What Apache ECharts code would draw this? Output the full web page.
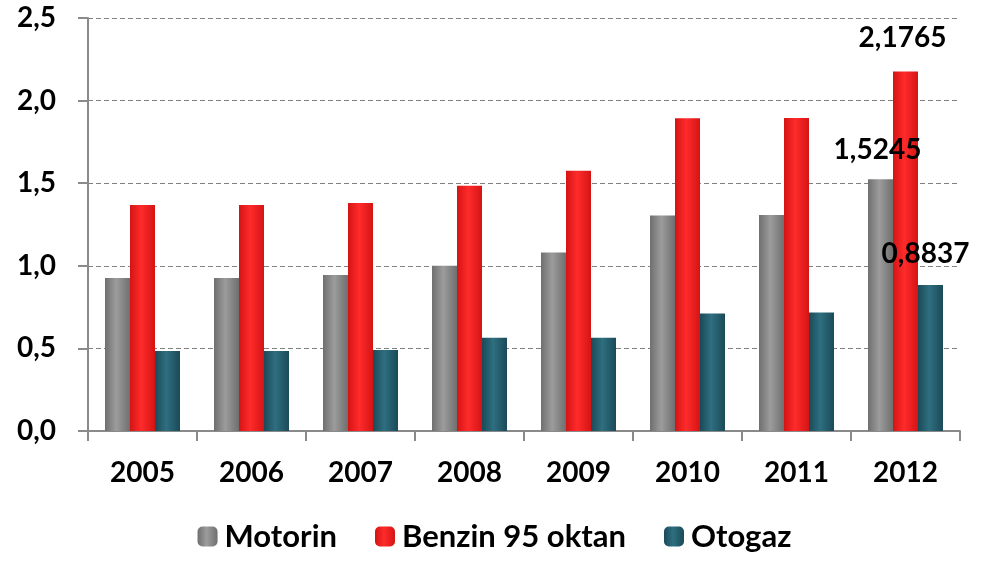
<!DOCTYPE html>
<html>
<head>
<meta charset="utf-8">
<script src="https://cdn.jsdelivr.net/npm/echarts@6/dist/echarts.min.js"></script>
<style>
  html, body { margin: 0; padding: 0; background: #fff; }
  #main { width: 989px; height: 563px; }
</style>
</head>
<body>
<div id="main"></div>
<script>
// yıllar
var years = ['2005', '2006', '2007', '2008', '2009', '2010', '2011', '2012'];
// TL/litre
var motorin = [0.926, 0.926, 0.945, 1.0, 1.08, 1.305, 1.307, 1.5245];
var benzin = [1.368, 1.368, 1.38, 1.485, 1.575, 1.893, 1.895, 2.1765];
var otogaz = [0.485, 0.485, 0.49, 0.565, 0.565, 0.712, 0.717, 0.8837];
var yTicks = [0, 0.5, 1.0, 1.5, 2.0, 2.5];

var FONT = 'Lato';

function grad(a, b) {
  return new echarts.graphic.LinearGradient(0, 0, 1, 0, [
    { offset: 0, color: a },
    { offset: 0.45, color: b },
    { offset: 1, color: a }
  ]);
}

// son yıl etiketleri
function withLabel(arr, dx, dist) {
  return arr.map(function (v, i) {
    if (i !== arr.length - 1) return v;
    return {
      value: v,
      label: {
        show: true,
        position: 'top',
        offset: [dx, 0],
        distance: dist,
        formatter: function (p) { return String(p.value).replace('.', ','); },
        fontFamily: FONT,
        fontWeight: 'bold',
        fontSize: 28,
        color: '#000'
      }
    };
  });
}

var myChart = echarts.init(document.getElementById('main'));

var option = {
  backgroundColor: '#fff',
  animation: false,
  grid: { left: 88, right: 29, top: 18, bottom: 132 },
  legend: {
    bottom: 6,
    left: 'center',
    itemWidth: 20,
    itemHeight: 20,
    itemGap: 38,
    textStyle: { fontFamily: FONT, fontWeight: 'bold', fontSize: 31, color: '#000', padding: [0, 0, 0, 2] },
    data: ['Motorin', 'Benzin 95 oktan', 'Otogaz']
  },
  xAxis: {
    type: 'category',
    data: years,
    axisLine: { lineStyle: { color: '#8a8a8a', width: 2 } },
    axisTick: { show: true, length: 10, lineStyle: { color: '#8a8a8a', width: 2 } },
    axisLabel: { margin: 28, fontFamily: FONT, fontWeight: 'bold', fontSize: 28, color: '#000' }
  },
  yAxis: {
    type: 'value',
    min: 0,
    max: 2.5,
    interval: 0.5,
    axisLine: { show: true, lineStyle: { color: '#8a8a8a', width: 2 } },
    axisTick: { show: true, length: 10, lineStyle: { color: '#8a8a8a', width: 2 } },
    splitLine: { lineStyle: { color: '#808080', type: [5, 3], width: 1 } },
    axisLabel: {
      margin: 32,
      fontFamily: FONT,
      fontWeight: 'bold',
      fontSize: 28,
      color: '#000',
      formatter: function (v) { return v.toFixed(1).replace('.', ','); }
    }
  },
  series: [
    {
      name: 'Motorin',
      type: 'bar',
      barWidth: 25,
      barGap: '0%',
      data: withLabel(motorin, -3, 15),
      itemStyle: { color: grad('#6f6f6f', '#9c9c9c') }
    },
    {
      name: 'Benzin 95 oktan',
      type: 'bar',
      barWidth: 25,
      data: withLabel(benzin, -3, 19),
      itemStyle: { color: grad('#d41414', '#ff2b2b') }
    },
    {
      name: 'Otogaz',
      type: 'bar',
      barWidth: 25,
      data: withLabel(otogaz, -5, 17),
      itemStyle: { color: grad('#1b4a58', '#2e6f80') }
    }
  ]
};

myChart.setOption(option);
</script>
</body>
</html>
